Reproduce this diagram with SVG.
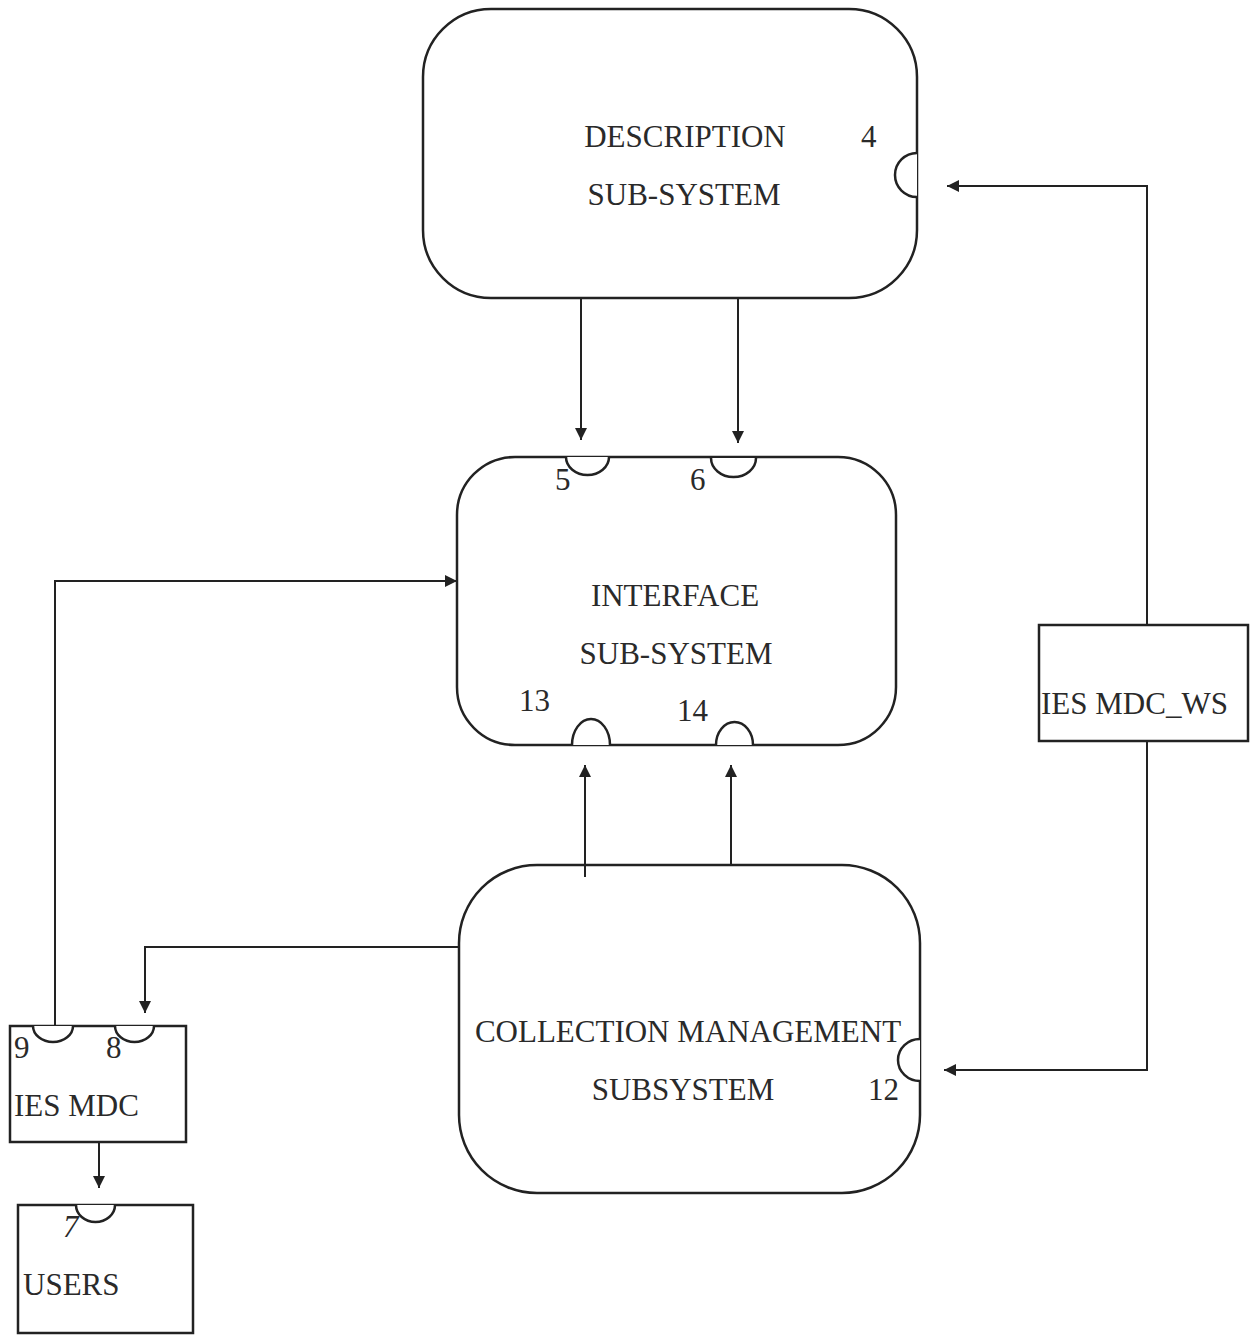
<svg xmlns="http://www.w3.org/2000/svg" width="1258" height="1336" viewBox="0 0 1258 1336">
  <style>
    .box { fill: none; stroke: #222; stroke-width: 2.5; }
    .port { fill: #fff; stroke: #222; stroke-width: 2.5; }
    .wire { fill: none; stroke: #222; stroke-width: 2; }
    .lbl { font-family: "Liberation Serif", "Times New Roman", serif; font-size: 31px; fill: #2a2a2a; }
    .mid { text-anchor: middle; }
  </style>
  <defs>
    <marker id="arrow" viewBox="0 0 10 10" refX="10" refY="5" markerWidth="12" markerHeight="12" markerUnits="userSpaceOnUse" orient="auto">
      <path d="M0,0 L10,5 L0,10 Z" fill="#222"/>
    </marker>
  </defs>
  <rect width="1258" height="1336" fill="#fff"/>

  <!-- connectors -->
  <g id="connectors">
    <path class="wire" d="M581,298 V440" marker-end="url(#arrow)"/>
    <path class="wire" d="M738,298 V443" marker-end="url(#arrow)"/>
    <path class="wire" d="M1147,625 V186 H947" marker-end="url(#arrow)"/>
    <path class="wire" d="M1147,740 V1070 H944" marker-end="url(#arrow)"/>
    <path class="wire" d="M585,877 V765" marker-end="url(#arrow)"/>
    <path class="wire" d="M731,865 V765" marker-end="url(#arrow)"/>
    <path class="wire" d="M55,1026 V581 H457" marker-end="url(#arrow)"/>
    <path class="wire" d="M459,947 H145 V1013" marker-end="url(#arrow)"/>
    <path class="wire" d="M99,1142 V1188" marker-end="url(#arrow)"/>
  </g>

  <!-- description sub-system -->
  <g id="description">
    <rect class="box" x="423" y="9" width="494" height="289" rx="68" ry="68"/>
    <path class="port" d="M917,153 A22,22 0 0 0 917,197"/>
    <text class="lbl mid" x="685" y="147">DESCRIPTION</text>
    <text class="lbl mid" x="684" y="205">SUB-SYSTEM</text>
    <text class="lbl" x="861" y="147">4</text>
  </g>

  <!-- interface sub-system -->
  <g id="interface">
    <rect class="box" x="457" y="457" width="439" height="288" rx="58" ry="58"/>
    <path class="port" d="M566,457 A21.5,18 0 0 0 609,457"/>
    <path class="port" d="M711,458 A22.5,19 0 0 0 756,458"/>
    <path class="port" d="M572,745 A19,26 0 0 1 610,745"/>
    <path class="port" d="M716,745 A18.5,23 0 0 1 753,745"/>
    <text class="lbl mid" x="675" y="606">INTERFACE</text>
    <text class="lbl mid" x="676" y="664">SUB-SYSTEM</text>
    <text class="lbl" x="555" y="490">5</text>
    <text class="lbl" x="690" y="490">6</text>
    <text class="lbl" x="519" y="711">13</text>
    <text class="lbl" x="677" y="721">14</text>
  </g>

  <!-- collection management subsystem -->
  <g id="collection">
    <rect class="box" x="459" y="865" width="461" height="328" rx="78" ry="78"/>
    <path class="port" d="M920,1039 A22,21 0 0 0 920,1081"/>
    <text class="lbl mid" x="688" y="1042">COLLECTION MANAGEMENT</text>
    <text class="lbl mid" x="683" y="1100">SUBSYSTEM</text>
    <text class="lbl" x="868" y="1100">12</text>
  </g>

  <!-- IES MDC_WS -->
  <g id="ies-mdc-ws">
    <rect class="box" x="1039" y="625" width="209" height="116"/>
    <text class="lbl" x="1041" y="714">IES MDC_WS</text>
  </g>

  <!-- IES MDC -->
  <g id="ies-mdc">
    <rect class="box" x="10" y="1026" width="176" height="116"/>
    <path class="port" d="M33,1026 A20,16 0 0 0 73,1026"/>
    <path class="port" d="M115,1026 A19.5,16 0 0 0 154,1026"/>
    <text class="lbl" x="14" y="1058">9</text>
    <text class="lbl" x="106" y="1058">8</text>
    <text class="lbl" x="14" y="1116">IES MDC</text>
  </g>

  <!-- users -->
  <g id="users">
    <rect class="box" x="18" y="1205" width="175" height="128"/>
    <path class="port" d="M76,1205 A19.5,17 0 0 0 115,1205"/>
    <text class="lbl" x="63" y="1237" font-style="italic">7</text>
    <text class="lbl" x="23" y="1295">USERS</text>
  </g>
</svg>
